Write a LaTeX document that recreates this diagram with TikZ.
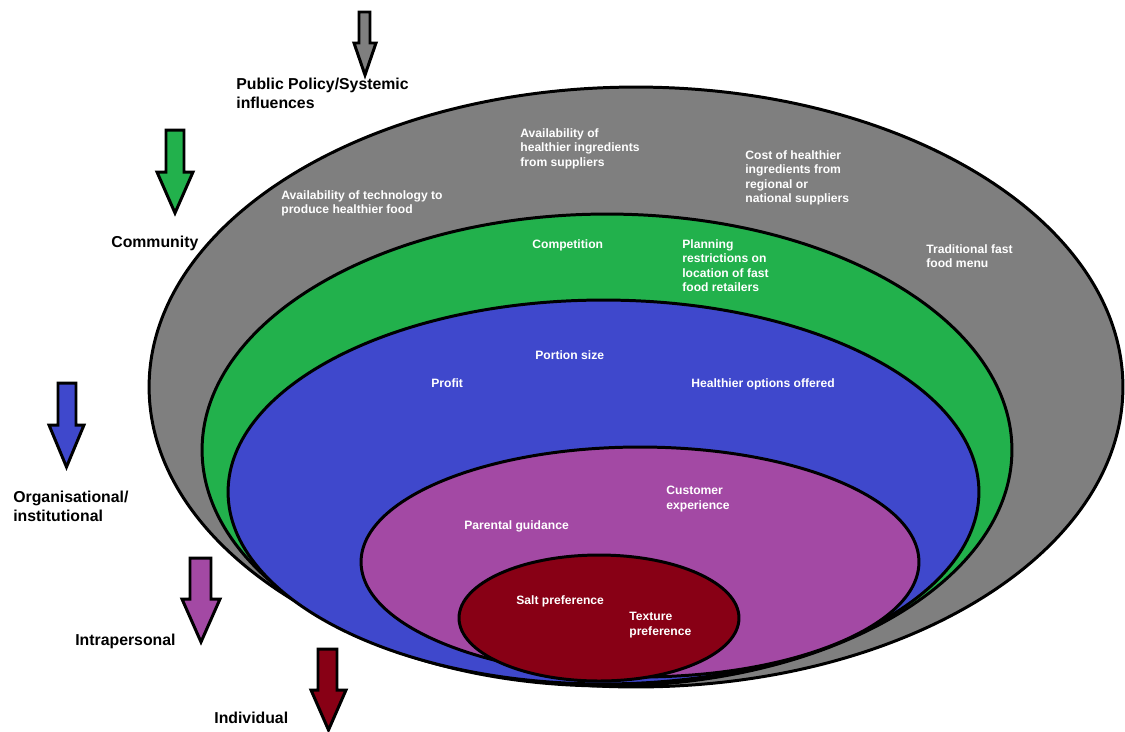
\documentclass[tikz,border=0pt]{standalone}
\usepackage{fontspec}
\setmainfont{Liberation Sans}
\usetikzlibrary{shapes.geometric}
\definecolor{cgray}{HTML}{7F7F7F}
\definecolor{cgreen}{HTML}{22B14C}
\definecolor{cblue}{HTML}{3F48CC}
\definecolor{cpurple}{HTML}{A349A4}
\definecolor{cdred}{HTML}{880015}
\newcommand{\dnarr}[9]{\draw[arrowbox, fill=#1] (#2,#4) -- (#3,#4) -- (#3,#7) -- (#6,#7) -- ({(#5+#6)/2},#8) -- (#5,#7) -- (#2,#7) -- cycle;}
\tikzset{
  ring/.style={ellipse, draw=black, line width=1.7pt, inner sep=0pt, outer sep=0pt},
  arrowbox/.style={draw=black, line width=1.7pt, line join=miter},
  blk/.style={font=\fontsize{9}{10.8}\selectfont\bfseries, align=left, anchor=north west, inner sep=0pt, text=black},
  wht/.style={font=\fontsize{6.9}{8.3}\selectfont\bfseries, align=left, anchor=north west, inner sep=0pt, text=white}
}
\begin{document}
\begin{tikzpicture}[x=0.02cm, y=-0.02cm]
\useasboundingbox (0,0) rectangle (1125,731);
% nested ellipses
\node[ring, fill=cgray, minimum width=19.48cm, minimum height=12cm] (policy) at (636,387) {};
\node[ring, fill=cgreen, minimum width=16.2cm, minimum height=9.44cm] (community) at (607,450) {};
\node[ring, fill=cblue, minimum width=15.02cm, minimum height=7.68cm] (organisation) at (603.5,492) {};
\node[ring, fill=cpurple, minimum width=11.16cm, minimum height=4.6cm] (intra) at (640,562) {};
\node[ring, fill=cdred, minimum width=5.6cm, minimum height=2.52cm] (individual) at (599,618) {};
% block arrows
\dnarr{cgray}{359}{370}{12}{354}{376}{43}{75}{}
\dnarr{cgreen}{166}{184}{130}{157}{193}{172}{213}{}
\dnarr{cblue}{58}{76}{383}{49}{84}{425}{467}{}
\dnarr{cpurple}{190}{211}{558}{182}{220}{599}{642}{}
\dnarr{cdred}{318}{337}{649}{311}{346}{690}{730}{}
% level labels
\node[blk] (lpolicy) at (236,78) {Public Policy/Systemic\\influences};
\node[blk] (lcomm) at (111,236) {Community};
\node[blk] (lorg) at (13,491) {Organisational/\\institutional};
\node[blk] (lintra) at (75,634) {Intrapersonal};
\node[blk] (lindiv) at (214,712) {Individual};
% factor labels
\node[wht] (t1) at (281,190) {Availability of technology to\\produce healthier food};
\node[wht] (t2) at (520,128) {Availability of\\healthier ingredients\\from suppliers};
\node[wht] (t3) at (745,150) {Cost of healthier\\ingredients from\\regional or\\national suppliers};
\node[wht] (t4) at (926,244) {Traditional fast\\food menu};
\node[wht] (t5) at (532,239) {Competition};
\node[wht] (t6) at (682,239) {Planning\\restrictions on\\location of fast\\food retailers};
\node[wht] (t7) at (535,350) {Portion size};
\node[wht] (t8) at (431,378) {Profit};
\node[wht] (t9) at (691,378) {Healthier options offered};
\node[wht] (t10) at (666,486) {Customer\\experience};
\node[wht] (t11) at (464,520) {Parental guidance};
\node[wht] (t12) at (516,595) {Salt preference};
\node[wht] (t13) at (629,612) {Texture\\preference};
\end{tikzpicture}
\end{document}
